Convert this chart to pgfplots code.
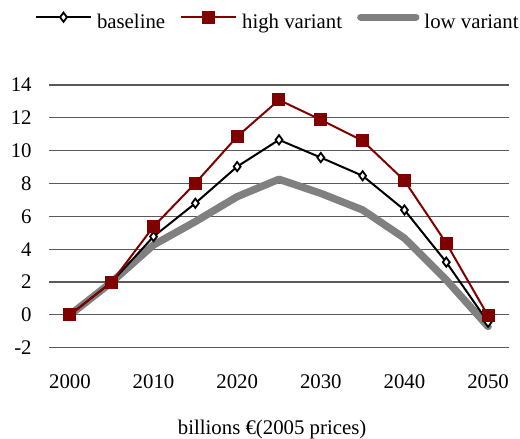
\documentclass[border=0pt]{standalone}
\usepackage{fontspec}
\setmainfont{Liberation Serif}
\usepackage{pgfplots}
\pgfplotsset{compat=1.18}
\definecolor{highc}{HTML}{800000}
\definecolor{lowc}{HTML}{808080}
\definecolor{gridc}{HTML}{5A5A5A}
\begin{document}
\begin{tikzpicture}
\path[use as bounding box] (-24.5pt,-45.65pt) rectangle (235.5pt,173.85pt);
\begin{axis}[
  scale only axis,
  width=230pt, height=131.35pt,
  xmin=1997.5, xmax=2052.5,
  ymin=-2, ymax=14,
  axis line style={draw=none},
  major tick length=0pt,
  ytick={-2,0,2,4,6,8,10,12,14},
  yticklabels={-2,0,2,4,6,8,10,12,14},
  xtick={2000,2010,2020,2030,2040,2050},
  xticklabels={2000,2010,2020,2030,2040,2050},
  ymajorgrids,
  major grid style={gridc, line width=0.6pt},
  font=\fontsize{10.4}{12.5}\selectfont,
  /pgf/number format/assume math mode=true,
  yticklabel style={anchor=east, inner sep=0pt, xshift=-8.5pt},
  xticklabel style={anchor=base, inner sep=0pt, yshift=-20.2pt},
  xlabel={billions €(2005 prices)},
  xlabel style={at={(axis description cs:0.485,0)}, anchor=base, inner sep=0pt, yshift=-43.6pt},
  clip=false,
  legend columns=-1,
  legend style={draw=none, fill=none, inner sep=0pt, outer sep=0pt,
    at={(axis description cs:-0.0304,1.279)}, anchor=north west,
    nodes={inner sep=0pt},
    /tikz/every odd column/.append style={column sep=2.5pt},
    /tikz/every even column/.append style={column sep=7.5pt}},
  legend image code/.code={\draw[mark repeat=2,mark phase=2] plot coordinates {(0pt,3pt) (13.75pt,3pt) (27.5pt,3pt)};},
]
\addplot[lowc, line width=3.7pt, line join=round, line cap=round, mark=none, forget plot] coordinates {
 (2000,0) (2005,2) (2010,4.26) (2015,5.68) (2020,7.2) (2025,8.26) (2030,7.4) (2035,6.39) (2040,4.67) (2045,2.13) (2050,-0.71)};
\addplot[black, line width=1pt, mark=diamond*, mark size=2.3pt, mark options={fill=white, draw=black, line width=0.9pt}] coordinates {
 (2000,0) (2005,2) (2010,4.77) (2015,6.8) (2020,9.03) (2025,10.66) (2030,9.58) (2035,8.47) (2040,6.39) (2045,3.21) (2050,-0.45)};
\addlegendentry{baseline}
\addplot[highc, line width=1pt, mark=square*, mark size=2.75pt, mark options={fill=highc, draw=highc}] coordinates {
 (2000,0) (2005,2) (2010,5.38) (2015,8.02) (2020,10.86) (2025,13.09) (2030,11.88) (2035,10.6) (2040,8.18) (2045,4.37) (2050,-0.06)};
\addlegendentry{high variant}
\addlegendimage{lowc, line width=3.7pt, line cap=round, mark=none}
\addlegendentry{low variant}
\end{axis}
\end{tikzpicture}
\end{document}
